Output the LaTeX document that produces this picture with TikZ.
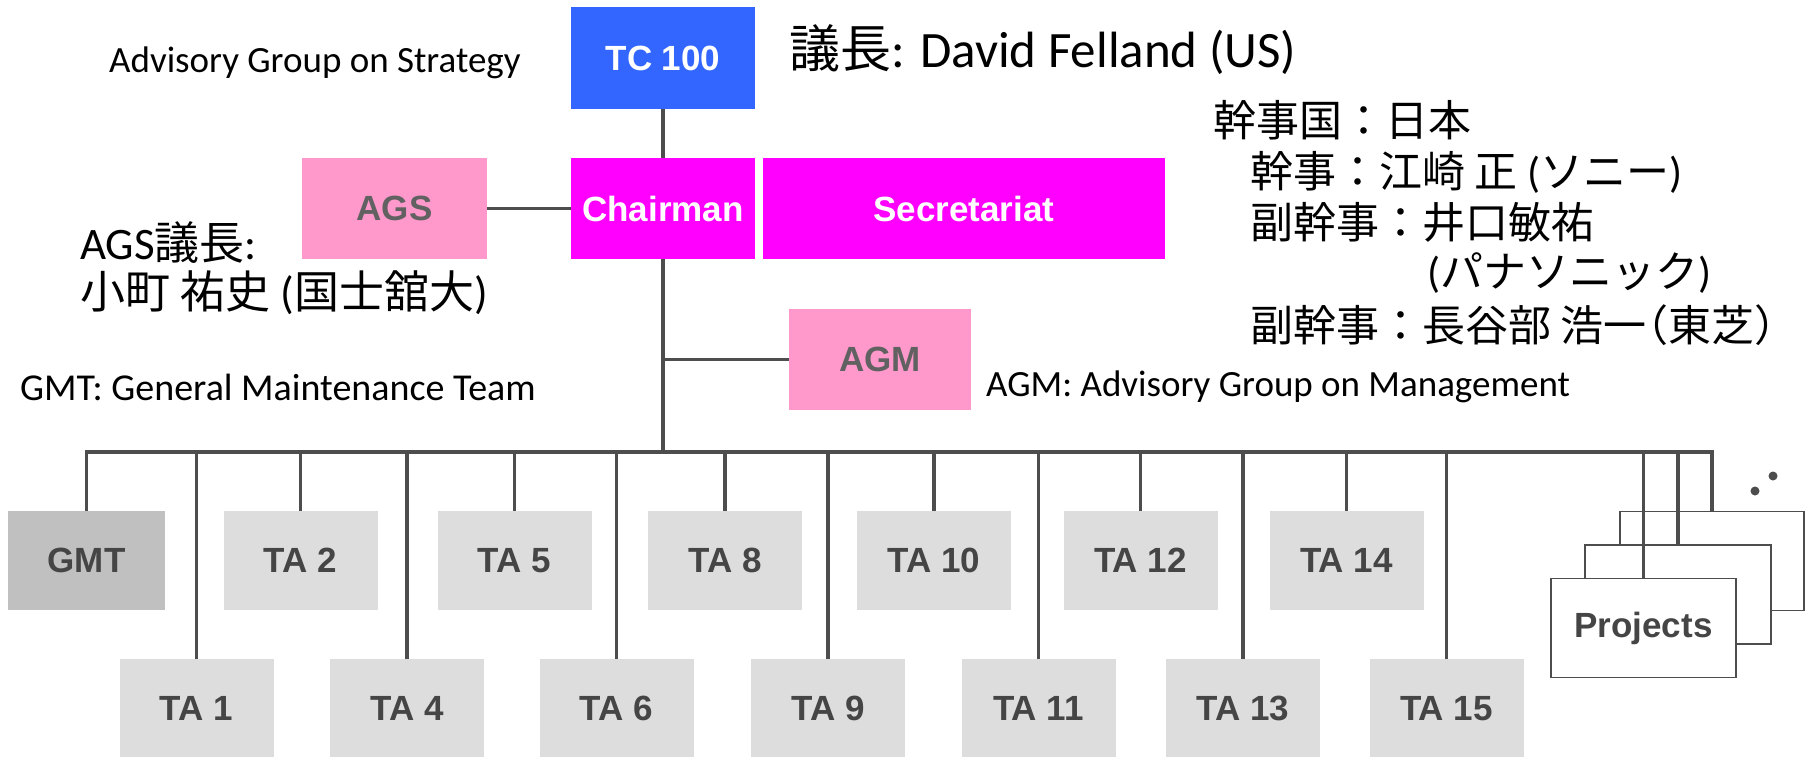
\documentclass[tikz,border=0pt]{standalone}
\usepackage{fontspec}
\setmainfont{Carlito}
\newfontfamily\cjk{Noto Sans CJK JP}
\newfontfamily\cjkhalf[RawFeature=+halt]{Noto Sans CJK JP}
\newfontfamily\boxfont{Liberation Sans}
\definecolor{tcblue}{HTML}{3366FF}
\definecolor{mag}{HTML}{FF00FF}
\definecolor{pinkbox}{HTML}{FF99CC}
\definecolor{tagray}{HTML}{DDDDDD}
\definecolor{gmtgray}{HTML}{C0C0C0}
\definecolor{linecol}{HTML}{4D4D4D}
\definecolor{boxtext}{HTML}{454545}
\begin{document}
\begin{tikzpicture}[x=1pt,y=-1pt,
  box/.style={inner sep=0pt, minimum height=101pt, font=\boxfont\bfseries\fontsize{35}{40}\selectfont},
  bluebox/.style={box, fill=tcblue, text=white},
  magbox/.style={box, fill=mag, text=white},
  pinkb/.style={box, fill=pinkbox, text=boxtext!85!white},
  tabox/.style={box, fill=tagray, text=boxtext, minimum width=154pt, minimum height=99pt},
  gmtbox/.style={tabox, fill=gmtgray},
  projbox/.style={box, draw=linecol, line width=1.8pt, fill=white, text=boxtext, minimum width=184pt, minimum height=99pt},
  conn/.style={draw=linecol, line width=3.5pt},
  lbl/.style={inner sep=0pt, anchor=west, font=\fontsize{37}{44}\selectfont},
  jp/.style={inner sep=0pt, anchor=west, font=\fontsize{43}{52}\selectfont},
]
\useasboundingbox (0,0) rectangle (1808,756);

% top boxes
\node[bluebox, minimum width=184pt, minimum height=102pt] (tc) at (663,58) {TC 100};
\node[magbox, minimum width=184pt] (chair) at (663,208.5) {Chairman};
\node[pinkb, minimum width=185pt] (ags) at (394.5,208.5) {AGS};
\node[magbox, minimum width=402pt] (sec) at (964,208.5) {Secretariat};
\node[pinkb, minimum width=182pt] (agm) at (880,359.5) {AGM};

% TA boxes row 1
\node[gmtbox, minimum width=157pt] (gmt) at (86.5,560.5) {GMT};
\node[tabox] (ta2) at (300.5,560.5) {TA 2};
\node[tabox] (ta5) at (514.5,560.5) {TA 5};
\node[tabox] (ta8) at (725,560.5) {TA 8};
\node[tabox] (ta10) at (934,560.5) {TA 10};
\node[tabox] (ta12) at (1140.5,560.5) {TA 12};
\node[tabox] (ta14) at (1346.5,560.5) {TA 14};
% row 2
\node[tabox] (ta1) at (196.5,708.5) {TA 1};
\node[tabox] (ta4) at (407,708.5) {TA 4};
\node[tabox] (ta6) at (616.5,708.5) {TA 6};
\node[tabox] (ta9) at (828,708.5) {TA 9};
\node[tabox] (ta11) at (1038.5,708.5) {TA 11};
\node[tabox] (ta13) at (1243,708.5) {TA 13};
\node[tabox] (ta15) at (1446.5,708.5) {TA 15};

% projects stack
\node[projbox] (p3) at (1712,561) {};
\node[projbox, minimum width=186pt] (p2) at (1678,594.5) {};
\node[projbox, minimum width=185pt] (p1) at (1643.5,628) {Projects};

% bus
\coordinate (busL) at (86.5,452);
\coordinate (busR) at (1712,452);
\draw[conn, line width=4pt, line cap=rect] (busL) -- (busR);

% connectors
\draw[conn] (tc.south) -- (chair.north);
\draw[conn] (ags.east) -- (chair.west);
\draw[conn] (chair.south) -- (chair.south |- busL);
\coordinate (agmj) at (chair.south |- agm.west);
\draw[conn] (agmj) -- (agm.west);
\foreach \n in {gmt,ta2,ta5,ta8,ta10,ta12,ta14,ta1,ta4,ta6,ta9,ta11,ta13,ta15,p1,p2,p3}
  \draw[conn] (\n.north |- busL) -- (\n.north);

% dots
\fill[linecol] (1755,491) circle (4.5pt) (1773,476) circle (4.5pt);

% annotations
\node[lbl] (t1) at (109,63) {Advisory Group on Strategy};
\node[lbl, font=\fontsize{38}{44}\selectfont] (t2) at (20,387) {GMT: General Maintenance Team};
\node[lbl] (t3) at (986,387) {AGM: Advisory Group on Management};
\node[inner sep=0pt, anchor=west, font=\fontsize{51}{58}\selectfont] (chairname) at (789,50) {{\cjk 議長}: David Felland (US)};
\node[inner sep=0pt, anchor=west, font=\fontsize{45}{52}\selectfont] (agsc1) at (80,243) {AGS{\cjk 議長}:};
\node[inner sep=0pt, anchor=west, font=\fontsize{45}{52}\selectfont] (agsc2) at (80,293) {{\cjk 小町 祐史} ({\cjk 国士舘大})};

\node[jp] (s1) at (1213,120) {\cjk 幹事国：日本};
\node[jp] (s2) at (1250,172) {{\cjk 幹事：江崎 正} ({\cjk ソニー})};
\node[jp] (s3) at (1250,222) {\cjk 副幹事：井口敏祐};
\node[jp] (s4) at (1427,273) {({\cjk パナソニック})};
\node[jp] (s5) at (1250,325) {{\cjk 副幹事：長谷部 浩一}{\cjkhalf （}{\cjk 東芝}{\cjkhalf ）}};
\end{tikzpicture}
\end{document}
